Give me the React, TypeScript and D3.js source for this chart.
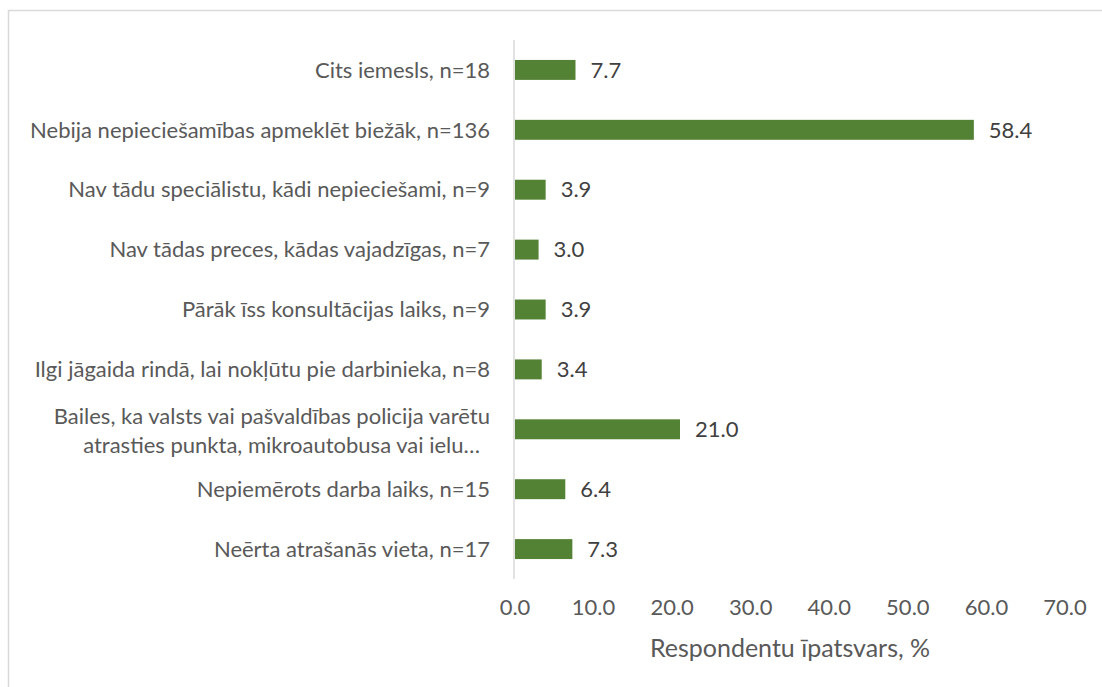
import React from "react";
import * as d3 from "d3";

const categories: string[][] = [
  ["Cits iemesls, n=18"],
  ["Nebija nepieciešamības apmeklēt biežāk, n=136"],
  ["Nav tādu speciālistu, kādi nepieciešami, n=9"],
  ["Nav tādas preces, kādas vajadzīgas, n=7"],
  ["Pārāk īss konsultācijas laiks, n=9"],
  ["Ilgi jāgaida rindā, lai nokļūtu pie darbinieka, n=8"],
  ["Bailes, ka valsts vai pašvaldības policija varētu", "atrasties punkta, mikroautobusa vai ielu…"],
  ["Nepiemērots darba laiks, n=15"],
  ["Neērta atrašanās vieta, n=17"],
];
const values: number[] = [7.7, 58.4, 3.9, 3.0, 3.9, 3.4, 21.0, 6.4, 7.3];
const ticks: number[] = [0, 10, 20, 30, 40, 50, 60, 70];
const axisTitle = "Respondentu īpatsvars, %";

const W = 1102;
const H = 687;
const FONT = "Lato, 'Open Sans', sans-serif";
const TEXT = "#595959";
const FS = 22;

export default function App() {
  const x = d3.scaleLinear().domain([0, 70]).range([515, 1065]);
  const y = d3
    .scaleBand<number>()
    .domain(d3.range(values.length))
    .range([40, 579])
    .paddingInner(0.667)
    .paddingOuter(0.333);
  const bh = y.bandwidth();
  return (
    <svg width={W} height={H} style={{ position: "absolute", left: 0, top: 0 }} fontFamily={FONT}>
      <rect x={0} y={0} width={W} height={H} fill="#ffffff" />
      <rect x={8.5} y={10.5} width={W + 20} height={H + 20} fill="none" stroke="#d9d9d9" strokeWidth={1.5} />
      {values.map((v, i) => {
        const yc = (y(i) as number) + bh / 2;
        return (
          <g key={i}>
            <rect x={x(0)} y={y(i)} width={x(v) - x(0)} height={bh} fill="#548235" />
            <text x={x(v) + 15} y={yc} dy="0.35em" fontSize={FS} fill="#404040">
              {d3.format(".1f")(v)}
            </text>
            {categories[i].length === 1 ? (
              <text x={490} y={yc} dy="0.35em" fontSize={FS} fill={TEXT} textAnchor="end">
                {categories[i][0]}
              </text>
            ) : (
              categories[i].map((line, j) => (
                <text
                  key={j}
                  x={490 - j * 10}
                  y={yc + 2 + (j - (categories[i].length - 1) / 2) * 29}
                  dy="0.35em"
                  fontSize={FS}
                  fill={TEXT}
                  textAnchor="end"
                >
                  {line}
                </text>
              ))
            )}
          </g>
        );
      })}
      <line x1={x(0) - 1} x2={x(0) - 1} y1={40} y2={579} stroke="#d9d9d9" strokeWidth={1.5} />
      {ticks.map((t) => (
        <text key={t} x={x(t)} y={607} dy="0.35em" fontSize={FS} fill={TEXT} textAnchor="middle">
          {d3.format(".1f")(t)}
        </text>
      ))}
      <text x={x(35)} y={648} dy="0.35em" fontSize={25} fill={TEXT} textAnchor="middle">
        {axisTitle}
      </text>
    </svg>
  );
}
